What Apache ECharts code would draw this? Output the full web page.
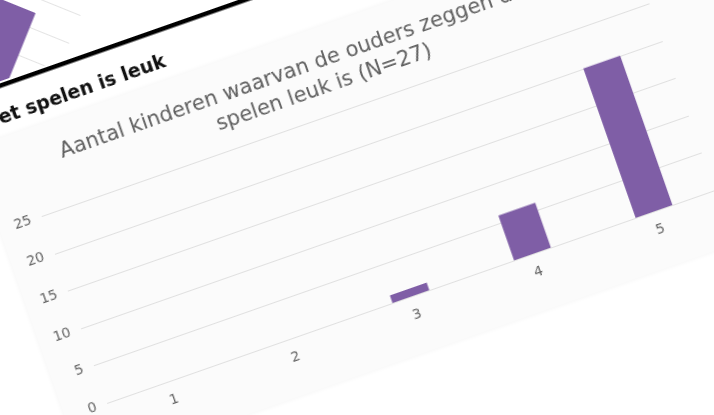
<!DOCTYPE html>
<html><head><meta charset="utf-8">
<script src="https://cdn.jsdelivr.net/npm/echarts@6/dist/echarts.min.js"></script>
<style>
html,body{margin:0;padding:0;width:714px;height:415px;overflow:hidden;background:#fff;}
#prev{position:absolute;left:-605px;top:-36px;width:700px;height:300px;transform-origin:680px 65px;transform:rotate(22deg);}
#main{position:absolute;left:-13px;top:-17px;width:840px;height:650px;transform-origin:120px 420px;transform:rotate(-19.3deg);}
</style></head><body>
<div id="prev"></div>
<div id="main"></div>
<script>
// Main chart data
const categories = ['1', '2', '3', '4', '5'];
const values = [0, 0, 1, 6, 20];
const yTicks = [0, 5, 10, 15, 20, 25];
const titleLines = ['Aantal kinderen waarvan de ouders zeggen dat het', 'spelen leuk is (N=27)'];
const headerText = 'Het spelen is leuk';
// Fragment of the previous chart visible in the top-left corner
const prevCategories = ['1', '2', '3', '4', '5'];
const prevValues = ['-', '-', '-', '-', 17.5];

const purple = '#7f5ea6';

const prev = echarts.init(document.getElementById('prev'));
prev.setOption({
  animation: false,
  grid: { left: 30, right: 20, top: 20, height: 150 },
  xAxis: { type: 'category', data: prevCategories, axisLine: { show: false }, axisTick: { show: false }, axisLabel: { show: false } },
  yAxis: { type: 'value', min: yTicks[0], max: yTicks[yTicks.length - 1], interval: 5, axisLabel: { show: false },
           splitLine: { lineStyle: { color: '#e4e4e4', width: 1 } } },
  series: [{ type: 'bar', data: prevValues, barWidth: 45, itemStyle: { color: purple } }]
});

const main = echarts.init(document.getElementById('main'));
main.setOption({
  animation: false,
  title: {
    text: titleLines.join('\n'),
    left: 424, top: 150, textAlign: 'center',
    textStyle: { fontFamily: 'DejaVu Sans', fontSize: 21, fontWeight: 'normal', color: '#606060', lineHeight: 26.5 }
  },
  grid: { left: 120, right: 76, top: 222.3, bottom: 230 },
  xAxis: {
    type: 'category', data: categories,
    axisLine: { show: false }, axisTick: { show: false },
    axisLabel: { color: '#666', fontSize: 14, fontFamily: 'DejaVu Sans', margin: 12 }
  },
  yAxis: {
    type: 'value', min: yTicks[0], max: yTicks[yTicks.length - 1], interval: 5,
    axisLine: { show: false }, axisTick: { show: false },
    axisLabel: { color: '#666', fontSize: 14, fontFamily: 'DejaVu Sans', margin: 11 },
    splitLine: { lineStyle: { color: '#e0e0e0', width: 1 } }
  },
  series: [{ type: 'bar', data: values, barWidth: 39, itemStyle: { color: purple } }],
  graphic: [
    { type: 'rect', z: -100, shape: { x: 0, y: 81, width: 840, height: 569 }, style: { fill: '#ffffff' } },
    { type: 'rect', z: -99, shape: { x: 76, y: 135, width: 800, height: 342 },
      style: { fill: '#fbfbfb', shadowBlur: 6, shadowColor: 'rgba(0,0,0,0.05)' } },
    { type: 'rect', z: -98, shape: { x: 0, y: 83, width: 840, height: 4.5 }, style: { fill: '#000000' } },
    { type: 'text', z: 10, x: 96, y: 117, style: { text: headerText, font: 'bold 19px "DejaVu Sans"', fill: '#111', verticalAlign: 'middle', align: 'left' } }
  ]
});
</script>
</body></html>
